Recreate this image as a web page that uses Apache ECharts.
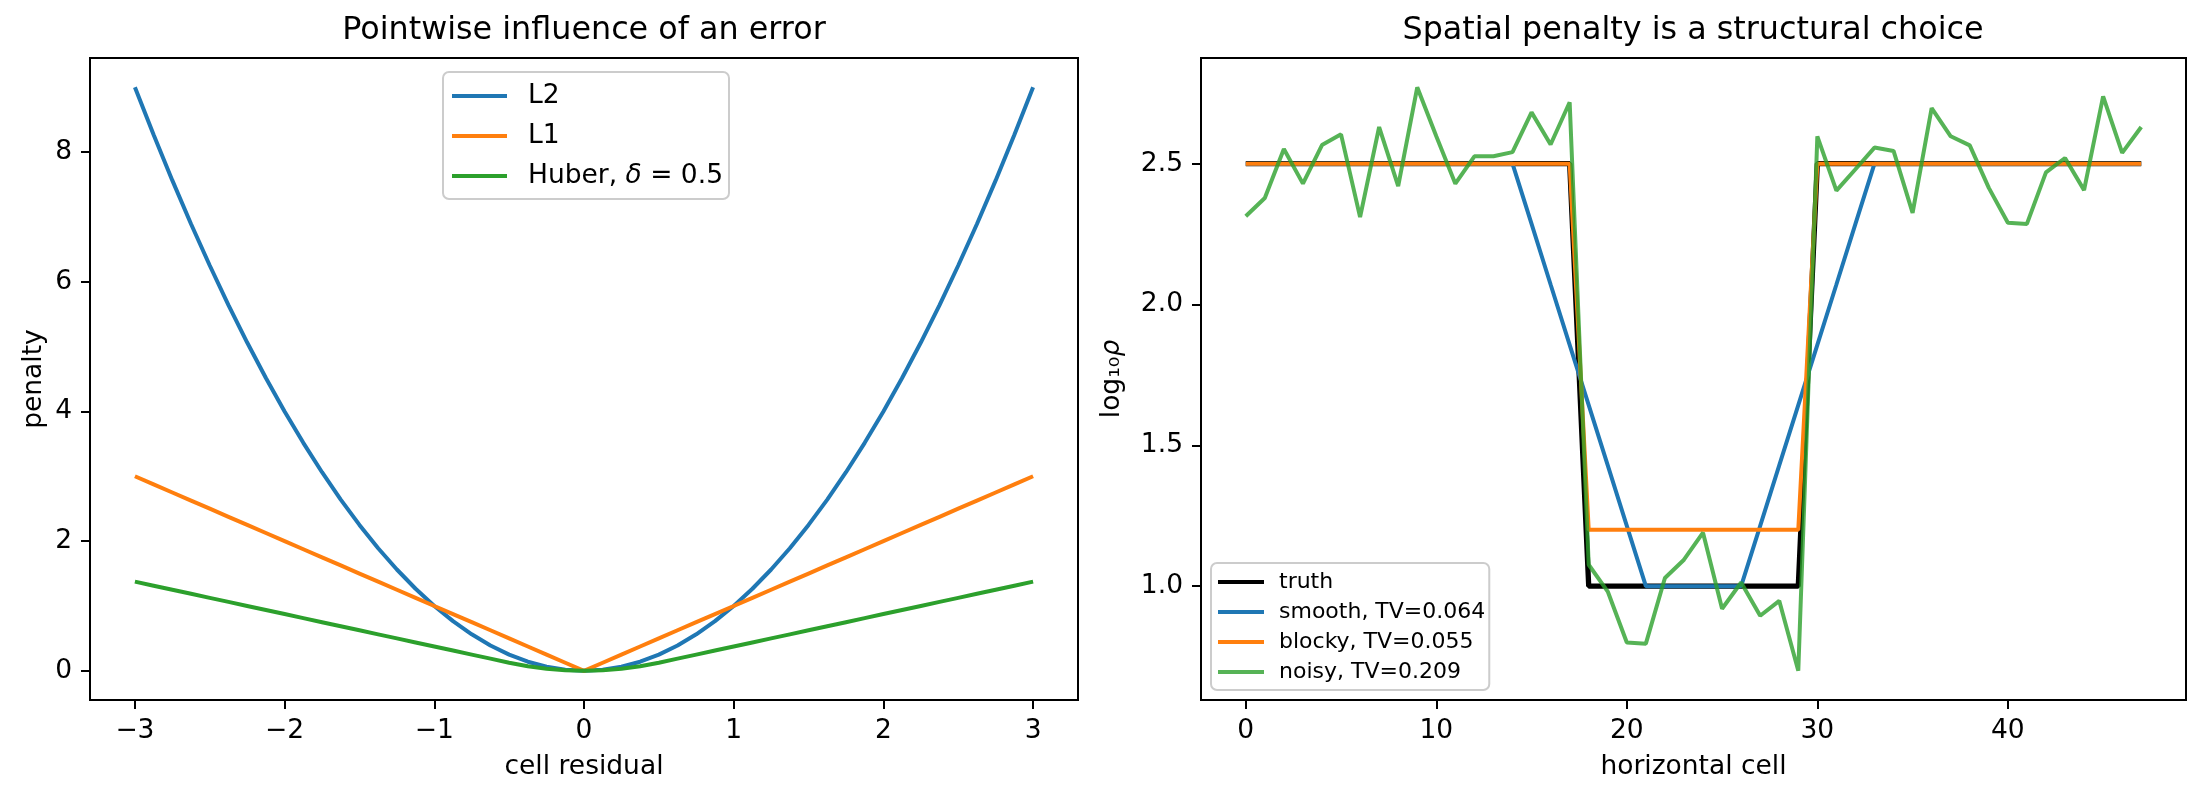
<!DOCTYPE html>
<html>
<head>
<meta charset="utf-8">
<title>penalties</title>
<script src="https://cdn.jsdelivr.net/npm/echarts@6.0.0/dist/echarts.min.js"></script>
<style>
  html, body { margin: 0; padding: 0; background: #fff; }
  #main { width: 2207px; height: 801px; }
</style>
</head>
<body>
<div id="main"></div>
<script>
// left panel: penalty vs residual
var residual = [-3, -2.875, -2.75, -2.625, -2.5, -2.375, -2.25, -2.125, -2, -1.875, -1.75, -1.625,
  -1.5, -1.375, -1.25, -1.125, -1, -0.875, -0.75, -0.625, -0.5, -0.375, -0.25, -0.125, 0,
  0.125, 0.25, 0.375, 0.5, 0.625, 0.75, 0.875, 1, 1.125, 1.25, 1.375, 1.5,
  1.625, 1.75, 1.875, 2, 2.125, 2.25, 2.375, 2.5, 2.625, 2.75, 2.875, 3];
var l2 = [9, 8.265625, 7.5625, 6.890625, 6.25, 5.640625, 5.0625, 4.515625, 4, 3.515625, 3.0625, 2.640625,
  2.25, 1.890625, 1.5625, 1.265625, 1, 0.765625, 0.5625, 0.390625, 0.25, 0.140625, 0.0625, 0.015625, 0,
  0.015625, 0.0625, 0.140625, 0.25, 0.390625, 0.5625, 0.765625, 1, 1.265625, 1.5625, 1.890625, 2.25,
  2.640625, 3.0625, 3.515625, 4, 4.515625, 5.0625, 5.640625, 6.25, 6.890625, 7.5625, 8.265625, 9];
var l1 = [3, 2.875, 2.75, 2.625, 2.5, 2.375, 2.25, 2.125, 2, 1.875, 1.75, 1.625,
  1.5, 1.375, 1.25, 1.125, 1, 0.875, 0.75, 0.625, 0.5, 0.375, 0.25, 0.125, 0,
  0.125, 0.25, 0.375, 0.5, 0.625, 0.75, 0.875, 1, 1.125, 1.25, 1.375, 1.5,
  1.625, 1.75, 1.875, 2, 2.125, 2.25, 2.375, 2.5, 2.625, 2.75, 2.875, 3];
var huber = [1.375, 1.3125, 1.25, 1.1875, 1.125, 1.0625, 1, 0.9375, 0.875, 0.8125, 0.75, 0.6875,
  0.625, 0.5625, 0.5, 0.4375, 0.375, 0.3125, 0.25, 0.1875, 0.125, 0.0703, 0.03125, 0.0078, 0,
  0.0078, 0.03125, 0.0703, 0.125, 0.1875, 0.25, 0.3125, 0.375, 0.4375, 0.5, 0.5625, 0.625,
  0.6875, 0.75, 0.8125, 0.875, 0.9375, 1, 1.0625, 1.125, 1.1875, 1.25, 1.3125, 1.375];
var leftXTicks = [-3, -2, -1, 0, 1, 2, 3];
var leftYTicks = [0, 2, 4, 6, 8];

// right panel: log10 rho along a row of cells
var cells = [0, 1, 2, 3, 4, 5, 6, 7, 8, 9, 10, 11, 12, 13, 14, 15, 16, 17, 18, 19, 20, 21, 22, 23,
  24, 25, 26, 27, 28, 29, 30, 31, 32, 33, 34, 35, 36, 37, 38, 39, 40, 41, 42, 43, 44, 45, 46, 47];
var truth = [2.5, 2.5, 2.5, 2.5, 2.5, 2.5, 2.5, 2.5, 2.5, 2.5, 2.5, 2.5, 2.5, 2.5, 2.5, 2.5, 2.5, 2.5,
  1.0, 1.0, 1.0, 1.0, 1.0, 1.0, 1.0, 1.0, 1.0, 1.0, 1.0, 1.0,
  2.5, 2.5, 2.5, 2.5, 2.5, 2.5, 2.5, 2.5, 2.5, 2.5, 2.5, 2.5, 2.5, 2.5, 2.5, 2.5, 2.5, 2.5];
var smooth = [2.5, 2.5, 2.5, 2.5, 2.5, 2.5, 2.5, 2.5, 2.5, 2.5, 2.5, 2.5, 2.5, 2.5, 2.5,
  2.286, 2.071, 1.857, 1.643, 1.429, 1.214,
  1.0, 1.0, 1.0, 1.0, 1.0, 1.0,
  1.214, 1.429, 1.643, 1.857, 2.071, 2.286,
  2.5, 2.5, 2.5, 2.5, 2.5, 2.5, 2.5, 2.5, 2.5, 2.5, 2.5, 2.5, 2.5, 2.5, 2.5];
var blocky = [2.5, 2.5, 2.5, 2.5, 2.5, 2.5, 2.5, 2.5, 2.5, 2.5, 2.5, 2.5, 2.5, 2.5, 2.5, 2.5, 2.5, 2.5,
  1.2, 1.2, 1.2, 1.2, 1.2, 1.2, 1.2, 1.2, 1.2, 1.2, 1.2, 1.2,
  2.5, 2.5, 2.5, 2.5, 2.5, 2.5, 2.5, 2.5, 2.5, 2.5, 2.5, 2.5, 2.5, 2.5, 2.5, 2.5, 2.5, 2.5];
var noisy = [2.313, 2.378, 2.552, 2.429, 2.566, 2.604, 2.31, 2.63, 2.42, 2.771, 2.597, 2.429,
  2.526, 2.526, 2.541, 2.682, 2.568, 2.718, 1.076, 0.981, 0.80, 0.796, 1.029, 1.094,
  1.19, 0.92, 1.013, 0.895, 0.948, 0.70, 2.597, 2.404, 2.48, 2.557, 2.545, 2.325,
  2.697, 2.597, 2.565, 2.414, 2.29, 2.286, 2.469, 2.52, 2.406, 2.739, 2.538, 2.63];
var rightXTicks = [0, 10, 20, 30, 40];
var rightYTicks = [1.0, 1.5, 2.0, 2.5];

function pairs(xs, ys) {
  var out = [];
  for (var i = 0; i < xs.length; i++) out.push([xs[i], ys[i]]);
  return out;
}

var FONT = 'DejaVu Sans';
var FS = 26.5;

function axisBase(ticks, fmt) {
  return {
    type: 'value',
    splitLine: { show: false },
    axisLine: { show: false, onZero: false },
    axisTick: { show: true, inside: false, length: 9, customValues: ticks,
      lineStyle: { color: '#000', width: 2 } },
    axisLabel: { show: true, margin: 18, customValues: ticks, formatter: fmt,
      color: '#000', fontFamily: FONT, fontSize: FS },
    nameLocation: 'middle',
    nameTextStyle: { color: '#000', fontFamily: FONT, fontSize: FS }
  };
}

function minus(v) { return String(v).replace('-', '\u2212'); }
function oneDec(v) { return v.toFixed(1); }

var dom = document.getElementById('main');
var myChart = echarts.init(dom, null, { renderer: 'canvas', devicePixelRatio: 1 });

var xLeft = axisBase(leftXTicks, minus);
xLeft.gridIndex = 0; xLeft.min = -3.3; xLeft.max = 3.3;
xLeft.name = 'cell residual'; xLeft.nameGap = 54;

var yLeft = axisBase(leftYTicks, minus);
yLeft.gridIndex = 0; yLeft.min = -0.45; yLeft.max = 9.45;
yLeft.name = 'penalty'; yLeft.nameGap = 42; yLeft.nameRotate = 90;

var xRight = axisBase(rightXTicks, minus);
xRight.gridIndex = 1; xRight.min = -2.35; xRight.max = 49.35;
xRight.name = 'horizontal cell'; xRight.nameGap = 54;

var yRight = axisBase(rightYTicks, oneDec);
yRight.gridIndex = 1; yRight.min = 0.596; yRight.max = 2.875;
yRight.name = '{a|log₁₀}{b|ρ}'; yRight.nameGap = 75; yRight.nameRotate = 90;
yRight.nameTextStyle.rich = {
  a: { fontFamily: FONT, fontSize: FS, color: '#000' },
  b: { fontFamily: FONT, fontSize: FS, fontStyle: 'italic', color: '#000' }
};

var option = {
  backgroundColor: '#fff',
  animation: false,
  title: [{
    text: 'Pointwise influence of an error',
    left: 584, top: 15, padding: 0, textAlign: 'center',
    textStyle: { fontFamily: FONT, fontSize: 31.8, fontWeight: 'normal', color: '#000' }
  }, {
    text: 'Spatial penalty is a structural choice',
    left: 1693, top: 15, padding: 0, textAlign: 'center',
    textStyle: { fontFamily: FONT, fontSize: 31.8, fontWeight: 'normal', color: '#000' }
  }],
  grid: [
    { left: 90, top: 58, width: 988, height: 642, show: true, borderColor: '#000', borderWidth: 2,
      backgroundColor: 'transparent', containLabel: false },
    { left: 1201, top: 58, width: 985, height: 642, show: true, borderColor: '#000', borderWidth: 2,
      backgroundColor: 'transparent', containLabel: false }
  ],
  legend: [{
    orient: 'vertical', left: 443, top: 72,
    data: ['L2', 'L1', 'Huber'],
    icon: 'rect', itemWidth: 55, itemHeight: 4, itemGap: 0,
    padding: [4, 6, 3, 9],
    backgroundColor: 'rgba(255,255,255,0.8)', borderColor: '#cccccc', borderWidth: 2, borderRadius: 6,
    formatter: function (name) {
      if (name === 'Huber') return '{n|Huber, }{i|δ}{n| = 0.5}';
      return name;
    },
    textStyle: {
      fontFamily: FONT, fontSize: FS, color: '#000', lineHeight: 40, padding: [0, 0, 0, 16],
      rich: {
        n: { fontFamily: FONT, fontSize: FS, color: '#000', lineHeight: 40 },
        i: { fontFamily: FONT, fontSize: FS, fontStyle: 'italic', color: '#000', lineHeight: 40 }
      }
    }
  }, {
    orient: 'vertical', left: 1211, top: 563,
    data: ['truth', 'smooth, TV=0.064', 'blocky, TV=0.055', 'noisy, TV=0.209'],
    icon: 'rect', itemWidth: 46, itemHeight: 4, itemGap: 0,
    padding: [4, 4, 3, 7],
    backgroundColor: 'rgba(255,255,255,0.8)', borderColor: '#cccccc', borderWidth: 2, borderRadius: 6,
    textStyle: { fontFamily: FONT, fontSize: 22, color: '#000', lineHeight: 30, padding: [0, 0, 0, 10] }
  }],
  xAxis: [xLeft, xRight],
  yAxis: [yLeft, yRight],
  series: [
    { name: 'L2', type: 'line', xAxisIndex: 0, yAxisIndex: 0, symbol: 'none',
      data: pairs(residual, l2), lineStyle: { color: '#1f77b4', width: 4 }, itemStyle: { color: '#1f77b4' } },
    { name: 'L1', type: 'line', xAxisIndex: 0, yAxisIndex: 0, symbol: 'none',
      data: pairs(residual, l1), lineStyle: { color: '#ff7f0e', width: 4 }, itemStyle: { color: '#ff7f0e' } },
    { name: 'Huber', type: 'line', xAxisIndex: 0, yAxisIndex: 0, symbol: 'none',
      data: pairs(residual, huber), lineStyle: { color: '#2ca02c', width: 4 }, itemStyle: { color: '#2ca02c' } },

    { name: 'truth', type: 'line', xAxisIndex: 1, yAxisIndex: 1, symbol: 'none',
      data: pairs(cells, truth), lineStyle: { color: '#000', width: 5.3 }, itemStyle: { color: '#000' } },
    { name: 'smooth, TV=0.064', type: 'line', xAxisIndex: 1, yAxisIndex: 1, symbol: 'none',
      data: pairs(cells, smooth), lineStyle: { color: '#1f77b4', width: 4 }, itemStyle: { color: '#1f77b4' } },
    { name: 'blocky, TV=0.055', type: 'line', xAxisIndex: 1, yAxisIndex: 1, symbol: 'none',
      data: pairs(cells, blocky), lineStyle: { color: '#ff7f0e', width: 4 }, itemStyle: { color: '#ff7f0e' } },
    { name: 'noisy, TV=0.209', type: 'line', xAxisIndex: 1, yAxisIndex: 1, symbol: 'none',
      data: pairs(cells, noisy), lineStyle: { color: '#2ca02c', width: 4, opacity: 0.8 },
      itemStyle: { color: '#2ca02c', opacity: 0.8 } }
  ]
};

myChart.setOption(option, true);
</script>
</body>
</html>
